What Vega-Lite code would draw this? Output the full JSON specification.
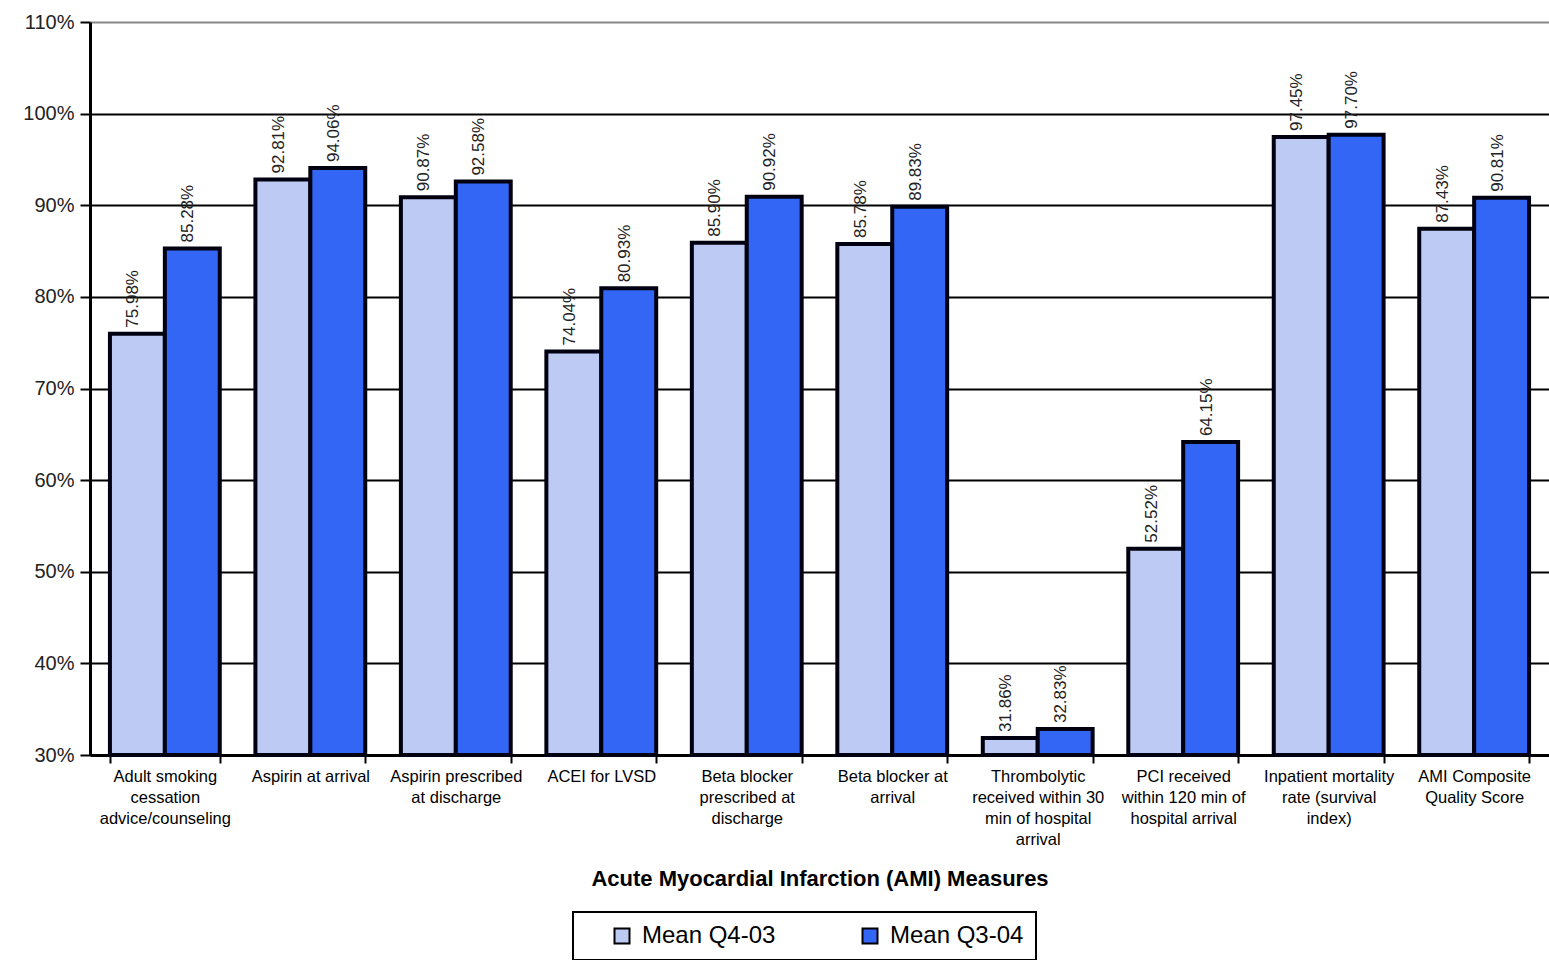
{
  "$schema": "https://vega.github.io/schema/vega-lite/v6.json",
  "width": 1459,
  "height": 733,
  "autosize": {"type": "none"},
  "padding": {"left": 90, "top": 22, "right": 0, "bottom": 205},
  "background": "white",
  "config": {
    "view": {"stroke": null},
    "font": "Liberation Sans"
  },
  "data": {
    "values": [
      {"measure": "Adult smoking|cessation|advice/counseling", "series": "Mean Q4-03", "value": 0.7598},
      {"measure": "Adult smoking|cessation|advice/counseling", "series": "Mean Q3-04", "value": 0.8528},
      {"measure": "Aspirin at arrival", "series": "Mean Q4-03", "value": 0.9281},
      {"measure": "Aspirin at arrival", "series": "Mean Q3-04", "value": 0.9406},
      {"measure": "Aspirin prescribed|at discharge", "series": "Mean Q4-03", "value": 0.9087},
      {"measure": "Aspirin prescribed|at discharge", "series": "Mean Q3-04", "value": 0.9258},
      {"measure": "ACEI for LVSD", "series": "Mean Q4-03", "value": 0.7404},
      {"measure": "ACEI for LVSD", "series": "Mean Q3-04", "value": 0.8093},
      {"measure": "Beta blocker|prescribed at|discharge", "series": "Mean Q4-03", "value": 0.8590},
      {"measure": "Beta blocker|prescribed at|discharge", "series": "Mean Q3-04", "value": 0.9092},
      {"measure": "Beta blocker at|arrival", "series": "Mean Q4-03", "value": 0.8578},
      {"measure": "Beta blocker at|arrival", "series": "Mean Q3-04", "value": 0.8983},
      {"measure": "Thrombolytic|received within 30|min of hospital|arrival", "series": "Mean Q4-03", "value": 0.3186},
      {"measure": "Thrombolytic|received within 30|min of hospital|arrival", "series": "Mean Q3-04", "value": 0.3283},
      {"measure": "PCI received|within 120 min of|hospital arrival", "series": "Mean Q4-03", "value": 0.5252},
      {"measure": "PCI received|within 120 min of|hospital arrival", "series": "Mean Q3-04", "value": 0.6415},
      {"measure": "Inpatient mortality|rate (survival|index)", "series": "Mean Q4-03", "value": 0.9745},
      {"measure": "Inpatient mortality|rate (survival|index)", "series": "Mean Q3-04", "value": 0.9770},
      {"measure": "AMI Composite|Quality Score", "series": "Mean Q4-03", "value": 0.8743},
      {"measure": "AMI Composite|Quality Score", "series": "Mean Q3-04", "value": 0.9081}
    ]
  },
  "encoding": {
    "x": {
      "field": "measure",
      "type": "nominal",
      "sort": null,
      "scale": {"paddingInner": 0.245, "paddingOuter": 0.137},
      "axis": {
        "title": "Acute Myocardial Infarction (AMI) Measures",
        "titleFontSize": 22,
        "titleFontWeight": "bold",
        "titleColor": "black",
        "titlePadding": 21,
        "labelExpr": "split(datum.label, '|')",
        "labelAngle": 0,
        "labelFontSize": 16.5,
        "labelLineHeight": 21,
        "labelColor": "black",
        "labelLimit": 0,
        "labelOverlap": false,
        "labelPadding": 5,
        "tickBand": "extent",
        "tickSize": 8,
        "tickWidth": 2,
        "tickColor": "black",
        "domainColor": "black",
        "domainWidth": 3
      }
    },
    "xOffset": {"field": "series", "sort": ["Mean Q4-03", "Mean Q3-04"]}
  },
  "layer": [
    {
      "mark": {"type": "bar", "stroke": "#000010", "strokeWidth": 4},
      "encoding": {
        "y": {
          "field": "value",
          "type": "quantitative",
          "scale": {"domain": [0.3, 1.1], "nice": false, "zero": false},
          "axis": {
            "title": null,
            "values": [0.3, 0.4, 0.5, 0.6, 0.7, 0.8, 0.9, 1.0, 1.1],
            "format": ".0%",
            "grid": true,
            "gridColor": {"condition": {"test": "datum.value > 1.05", "value": "#888888"}, "value": "black"},
            "gridWidth": 2,
            "gridOpacity": 1,
            "domainColor": "black",
            "domainWidth": 3,
            "tickSize": 10,
            "tickWidth": 2,
            "tickColor": "black",
            "labelFontSize": 20,
            "labelColor": "#222222",
            "labelPadding": 6
          }
        },
        "y2": {"datum": 0.3},
        "color": {
          "field": "series",
          "type": "nominal",
          "scale": {"domain": ["Mean Q4-03", "Mean Q3-04"], "range": ["#bccaf4", "#3366f5"]},
          "legend": {
            "title": null,
            "orient": "none",
            "legendX": 483,
            "legendY": 890,
            "direction": "horizontal",
            "symbolType": "square",
            "symbolSize": 225,
            "symbolStrokeColor": "black",
            "symbolStrokeWidth": 2,
            "symbolOpacity": 1,
            "symbolOffset": 25,
            "labelFontSize": 24,
            "labelColor": "black",
            "labelOffset": 8,
            "columnPadding": 57,
            "padding": 12,
            "strokeColor": "black",
            "fillColor": "white",
            "encode": {"legend": {"update": {"strokeWidth": {"value": 2}}}}
          }
        }
      }
    },
    {
      "mark": {
        "type": "text",
        "angle": 270,
        "align": "left",
        "baseline": "middle",
        "dx": 6,
        "dy": -4,
        "fontSize": 17,
        "color": "#222222"
      },
      "encoding": {
        "y": {"field": "value", "type": "quantitative"},
        "text": {"field": "value", "type": "quantitative", "format": ".2%"}
      }
    }
  ]
}
